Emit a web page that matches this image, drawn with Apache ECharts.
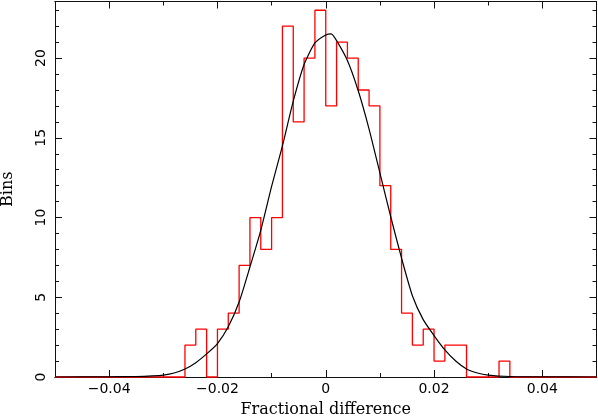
<!DOCTYPE html>
<html>
<head>
<meta charset="utf-8">
<script src="https://cdn.jsdelivr.net/npm/echarts@6/dist/echarts.min.js"></script>
<style>
  html, body { margin: 0; padding: 0; background: #fff; }
  #chart { width: 598px; height: 417px; }
</style>
</head>
<body>
<div id="chart"></div>
<script>
// histogram: 50 bins of width 0.002 starting at -0.05
var binStart = -0.05;
var binWidth = 0.002;
var counts = [
    0, 0, 0, 0, 0, 0, 0, 0, 0, 0,
    0, 0, 2, 3, 0, 3, 4, 7, 10, 8,
    10, 22, 16, 20, 23, 17, 21, 20, 18, 17,
    12, 8, 4, 2, 3, 1, 2, 2, 0, 0,
    0, 1, 0, 0, 0, 0, 0, 0, 0, 0
];

// fitted curve
var curveX = [-0.05, -0.04, -0.035, -0.032, -0.03, -0.028, -0.026, -0.024, -0.022, -0.02,
    -0.018, -0.016, -0.014, -0.012, -0.01, -0.008, -0.006, -0.004, -0.002, 0,
    0.001, 0.002, 0.004, 0.006, 0.008, 0.01, 0.012, 0.014, 0.016, 0.018,
    0.02, 0.022, 0.024, 0.026, 0.028, 0.03, 0.034, 0.04, 0.05];
var curveY = [0, 0.01, 0.03, 0.07, 0.12, 0.25, 0.5, 0.9, 1.45, 2.1,
    3.15, 4.7, 6.9, 9.2, 11.95, 14.5, 17.3, 19.6, 20.95, 21.45,
    21.52, 21.1, 19.85, 17.95, 15.55, 12.8, 10.05, 7.45, 5.1, 3.6,
    2.6, 1.7, 1.0, 0.5, 0.25, 0.12, 0.03, 0.01, 0];

// ticks
var xMajor = [-0.04, -0.02, 0, 0.02, 0.04];
var xMinor = [-0.03, -0.01, 0.01, 0.03];
var yMajor = [0, 5, 10, 15, 20];
var yMinor = [1, 2, 3, 4, 6, 7, 8, 9, 11, 12, 13, 14, 16, 17, 18, 19, 21, 22, 23];

var xMin = -0.05, xMax = 0.05, yMin = 0, yMax = 23.55;

var histData = [[binStart, 0]];
for (var i = 0; i < counts.length; i++) {
    histData.push([binStart + i * binWidth, counts[i]]);
}
histData.push([binStart + counts.length * binWidth, 0]);

var curveData = [];
for (var k = 0; k < curveX.length; k++) {
    curveData.push([curveX[k], curveY[k]]);
}

var axisColor = '#111';

function fmt(v) {
    if (v < 0) return '\u2212' + Math.abs(v);
    return String(v);
}

function xAxisDef(pos, vals, len, withLabel) {
    return {
        type: 'value', position: pos, min: xMin, max: xMax,
        axisLine: { show: true, onZero: false, lineStyle: { color: axisColor, width: 1 } },
        axisTick: { show: true, inside: true, length: len, customValues: vals, lineStyle: { color: axisColor, width: 1 } },
        axisLabel: withLabel ? {
            show: true, customValues: vals, margin: 5, formatter: fmt,
            color: '#000', fontFamily: 'DejaVu Sans', fontSize: 14
        } : { show: false },
        splitLine: { show: false }
    };
}

function yAxisDef(pos, vals, len, withLabel) {
    return {
        type: 'value', position: pos, min: yMin, max: yMax,
        axisLine: { show: true, onZero: false, lineStyle: { color: axisColor, width: 1 } },
        axisTick: { show: true, inside: true, length: len, customValues: vals, lineStyle: { color: axisColor, width: 1 } },
        axisLabel: withLabel ? {
            show: true, customValues: vals, margin: 7, rotate: 90,
            color: '#000', fontFamily: 'DejaVu Sans', fontSize: 14
        } : { show: false },
        splitLine: { show: false }
    };
}

var xBottom = xAxisDef('bottom', xMajor, 7, true);
xBottom.name = 'Fractional difference';
xBottom.nameLocation = 'middle';
xBottom.nameGap = 25;
xBottom.nameTextStyle = { color: '#000', fontFamily: 'DejaVu Serif', fontSize: 16 };

var yLeft = yAxisDef('left', yMajor, 7, true);
yLeft.name = 'Bins';
yLeft.nameLocation = 'middle';
yLeft.nameGap = 39;
yLeft.nameTextStyle = { color: '#000', fontFamily: 'DejaVu Serif', fontSize: 16 };

var chart = echarts.init(document.getElementById('chart'), null, { renderer: 'canvas' });
chart.setOption({
    animation: false,
    backgroundColor: '#fff',
    grid: { left: 55, right: 1.5, top: 1.5, bottom: 40, containLabel: false, outerBoundsMode: 'none' },
    xAxis: [
        xBottom,
        xAxisDef('bottom', xMinor, 4, false),
        xAxisDef('top', xMajor, 7, false),
        xAxisDef('top', xMinor, 4, false)
    ],
    yAxis: [
        yLeft,
        yAxisDef('left', yMinor, 4, false),
        yAxisDef('right', yMajor, 7, false),
        yAxisDef('right', yMinor, 4, false)
    ],
    series: [
        {
            type: 'line',
            xAxisIndex: 0, yAxisIndex: 0,
            data: histData,
            step: 'end',
            showSymbol: false,
            clip: false,
            lineStyle: { color: '#ff0000', width: 1.3 },
            z: 3
        },
        {
            type: 'line',
            xAxisIndex: 0, yAxisIndex: 0,
            data: curveData,
            showSymbol: false,
            smooth: 0.2,
            lineStyle: { color: '#000', width: 1.2 },
            z: 4
        }
    ]
});
</script>
</body>
</html>
